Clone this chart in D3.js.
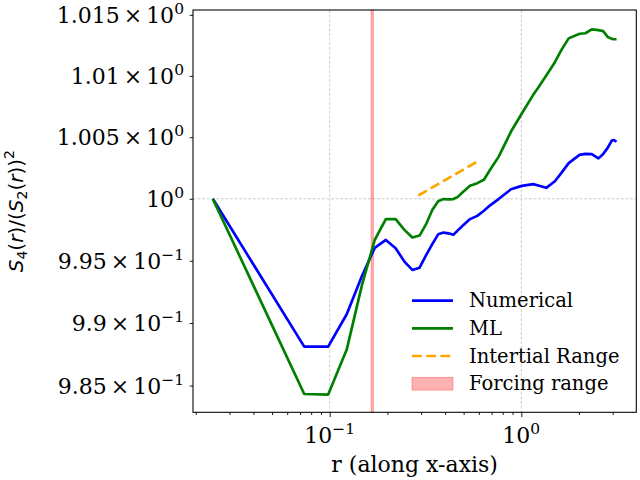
<!DOCTYPE html>
<html><head><meta charset="utf-8"><script src="https://cdn.jsdelivr.net/npm/d3@7"></script></head>
<body style="margin:0">
<script>
// ===============================================================
// Data
// ===============================================================
const r_vals = [0.02454, 0.07363, 0.09817, 0.1227, 0.1473, 0.1718, 0.1963, 0.2209, 0.2454,
  0.2700, 0.2945, 0.3191, 0.3436, 0.3682, 0.3927, 0.4172, 0.4418, 0.4663, 0.4909, 0.5400,
  0.5890, 0.6381, 0.6872, 0.7609, 0.8836, 1.0063, 1.1536, 1.2272, 1.3499, 1.4972, 1.6199,
  1.7671, 2.0126, 2.1598, 2.3317, 2.5280, 2.6753, 2.8225, 2.9698, 3.0434, 3.1416];

const numerical = [1.0000, 0.98811, 0.98811, 0.99070, 0.99377, 0.99604, 0.99668, 0.99601, 0.99493,
  0.99426, 0.99444, 0.99547, 0.99636, 0.99713, 0.99727, 0.99721, 0.99709, 0.99745, 0.99778, 0.99836,
  0.99862, 0.99903, 0.99947, 0.99998, 1.00077, 1.00105, 1.00119, 1.00108, 1.00089, 1.00142, 1.00210,
  1.00289, 1.00356, 1.00364, 1.00362, 1.00328, 1.00364, 1.00413, 1.00473, 1.00477, 1.00463];

const ml = [1.0000, 0.98433, 0.98428, 0.98787, 0.99304, 0.99668, 0.99836, 0.99836, 0.99749,
  0.99687, 0.99703, 0.99798, 0.99911, 0.99980, 0.99998, 0.99996, 0.99998, 1.00016, 1.00049, 1.00105,
  1.00127, 1.00154, 1.00235, 1.00340, 1.00546, 1.00693, 1.00845, 1.00906, 1.01003, 1.01112, 1.01213,
  1.01307, 1.01345, 1.01349, 1.01381, 1.01375, 1.01367, 1.01319, 1.01303, 1.01300, 1.01300];

const inertial_r = [0.29, 0.597];
const inertial_v = [1.00027, 1.00307];

const forcing_range = [0.1645, 0.1690];

const x_major_ticks = [0.1, 1];
const x_tick_exps = ['\u22121', '0'];
const x_minor_ticks = [0.02, 0.03, 0.04, 0.05, 0.06, 0.07, 0.08, 0.09,
  0.2, 0.3, 0.4, 0.5, 0.6, 0.7, 0.8, 0.9, 2, 3];

const y_ticks = [0.985, 0.99, 0.995, 1, 1.005, 1.01, 1.015];
const y_tick_mantissas = ['9.85', '9.9', '9.95', '', '1.005', '1.01', '1.015'];
const y_tick_exps = ['\u22121', '\u22121', '\u22121', '0', '0', '0', '0'];

const legend_labels = ['Numerical', 'ML', 'Intertial Range', 'Forcing range'];

// ===============================================================
// Layout
// ===============================================================
const width = 640, height = 480;
const plot = {left: 193, right: 636.3, top: 10, bottom: 412.3};
const serif_font = 'DejaVu Serif';
const sans_font = 'DejaVu Sans';

const svg = d3.select('body').append('svg')
  .attr('width', width)
  .attr('height', height);

const x = d3.scaleLog().domain([0.01934, 3.983]).range([plot.left, plot.right]);
const y = d3.scaleLog().domain([0.98287, 1.01540]).range([plot.bottom, plot.top]);

// grid (major ticks only)
const grid = svg.append('g')
  .attr('stroke', '#b8b8b8')
  .attr('stroke-width', 0.7)
  .attr('stroke-dasharray', '3,1.6');

grid.selectAll('line.gx')
  .data(x_major_ticks)
  .join('line')
  .attr('class', 'gx')
  .attr('x1', d => x(d)).attr('x2', d => x(d))
  .attr('y1', plot.top).attr('y2', plot.bottom);

grid.append('line')
  .attr('x1', plot.left).attr('x2', plot.right)
  .attr('y1', y(1)).attr('y2', y(1));

// forcing span
svg.append('rect')
  .attr('x', x(forcing_range[0]))
  .attr('width', x(forcing_range[1]) - x(forcing_range[0]))
  .attr('y', plot.top)
  .attr('height', plot.bottom - plot.top)
  .attr('fill', 'rgba(255,0,0,0.3)')
  .attr('stroke', 'rgba(255,0,0,0.3)')
  .attr('stroke-width', 1);

// series
const line = d3.line().x(d => x(d[0])).y(d => y(d[1]));

svg.append('path')
  .datum(d3.zip(r_vals, numerical))
  .attr('d', line)
  .attr('fill', 'none')
  .attr('stroke', 'blue')
  .attr('stroke-width', 2.67)
  .attr('stroke-linejoin', 'round');

svg.append('path')
  .datum(d3.zip(r_vals, ml))
  .attr('d', line)
  .attr('fill', 'none')
  .attr('stroke', 'green')
  .attr('stroke-width', 2.67)
  .attr('stroke-linejoin', 'round');

svg.append('path')
  .datum(d3.zip(inertial_r, inertial_v))
  .attr('d', line)
  .attr('fill', 'none')
  .attr('stroke', 'orange')
  .attr('stroke-width', 2.67)
  .attr('stroke-dasharray', '9.9,4.3');

// axes (ticks only, labels drawn separately)
const x_axis_major = svg.append('g')
  .attr('transform', `translate(0,${plot.bottom})`)
  .call(d3.axisBottom(x).tickValues(x_major_ticks).tickSize(4.7).tickFormat(''));
const x_axis_minor = svg.append('g')
  .attr('transform', `translate(0,${plot.bottom})`)
  .call(d3.axisBottom(x).tickValues(x_minor_ticks).tickSize(2.7).tickFormat(''));
const y_axis = svg.append('g')
  .attr('transform', `translate(${plot.left},0)`)
  .call(d3.axisLeft(y).tickValues(y_ticks).tickSize(3.3).tickFormat(''));

[x_axis_major, x_axis_minor, y_axis].forEach(g => {
  g.select('.domain').remove();
  g.selectAll('.tick text').remove();
  g.attr('font-family', null).attr('font-size', null);
  g.selectAll('.tick line').attr('stroke', '#000').attr('stroke-width', 0.9);
});

// frame
svg.append('rect')
  .attr('x', plot.left).attr('y', plot.top)
  .attr('width', plot.right - plot.left)
  .attr('height', plot.bottom - plot.top)
  .attr('fill', 'none')
  .attr('stroke', '#000')
  .attr('stroke-width', 1.07);

// tick labels (mathtext style: mantissa × 10^exp)
function sci_label(t, mant, exp) {
  if (mant) {
    t.append('tspan').attr('font-family', serif_font).text(mant);
    t.append('tspan').attr('font-family', serif_font).attr('dx', 4).text('\u00d7');
    t.append('tspan').attr('font-family', serif_font).attr('dx', 4).text('10');
  } else {
    t.append('tspan').attr('font-family', serif_font).text('10');
  }
  t.append('tspan').attr('font-family', serif_font)
    .attr('dy', -9).attr('font-size', 15.5).text(exp);
}

x_major_ticks.forEach((v, i) => {
  const t = svg.append('text')
    .attr('x', x(v))
    .attr('y', 443)
    .attr('text-anchor', 'middle')
    .attr('font-family', serif_font)
    .attr('font-size', 22);
  sci_label(t, '', x_tick_exps[i]);
});

y_ticks.forEach((v, i) => {
  const t = svg.append('text')
    .attr('x', 184)
    .attr('y', y(v) + 8)
    .attr('text-anchor', 'end')
    .attr('font-family', serif_font)
    .attr('font-size', 22);
  sci_label(t, y_tick_mantissas[i], y_tick_exps[i]);
});

// axis titles
svg.append('text')
  .attr('x', (plot.left + plot.right) / 2)
  .attr('y', 471.5)
  .attr('text-anchor', 'middle')
  .attr('font-family', serif_font)
  .attr('font-size', 22)
  .text('r (along x-axis)');

const ylab = svg.append('text')
  .attr('transform', `translate(23,${(plot.top + plot.bottom) / 2}) rotate(-90)`)
  .attr('text-anchor', 'middle')
  .attr('font-family', sans_font)
  .attr('font-size', 20);
const ylab_parts = [
  ['S', 'italic', 0, null], ['4', 'normal', 4, 14], ['(', 'normal', -4, null],
  ['r', 'italic', 0, null], [')/(', 'normal', 0, null], ['S', 'italic', 0, null],
  ['2', 'normal', 4, 14], ['(', 'normal', -4, null], ['r', 'italic', 0, null],
  ['))', 'normal', 0, null], ['2', 'normal', -9, 14]];
ylab_parts.forEach(([txt, st, dy, fs]) => {
  const sp = ylab.append('tspan').text(txt).attr('font-family', sans_font).attr('font-style', st);
  if (dy) sp.attr('dy', dy);
  if (fs) sp.attr('font-size', fs);
});

// legend
const legend = svg.append('g').attr('transform', 'translate(412,0)');
const legend_y = [300.7, 328.3, 356, 383.7];
const legend_styles = [
  {stroke: 'blue'}, {stroke: 'green'}, {stroke: 'orange', dash: '9.9,4.3'}, {patch: true}];

legend_styles.forEach((s, i) => {
  if (s.patch) {
    legend.append('rect')
      .attr('x', 0).attr('y', legend_y[i] - 6.3)
      .attr('width', 41).attr('height', 12.7)
      .attr('fill', 'rgba(255,0,0,0.3)')
      .attr('stroke', 'rgba(255,0,0,0.3)')
      .attr('stroke-width', 1);
  } else {
    legend.append('line')
      .attr('x1', 0).attr('x2', 41)
      .attr('y1', legend_y[i]).attr('y2', legend_y[i])
      .attr('stroke', s.stroke)
      .attr('stroke-width', 2.67)
      .attr('stroke-dasharray', s.dash || null);
  }
  legend.append('text')
    .attr('x', 57)
    .attr('y', legend_y[i] + 6.5)
    .attr('font-family', serif_font)
    .attr('font-size', 19.5)
    .text(legend_labels[i]);
});
</script>
</body>
</html>
